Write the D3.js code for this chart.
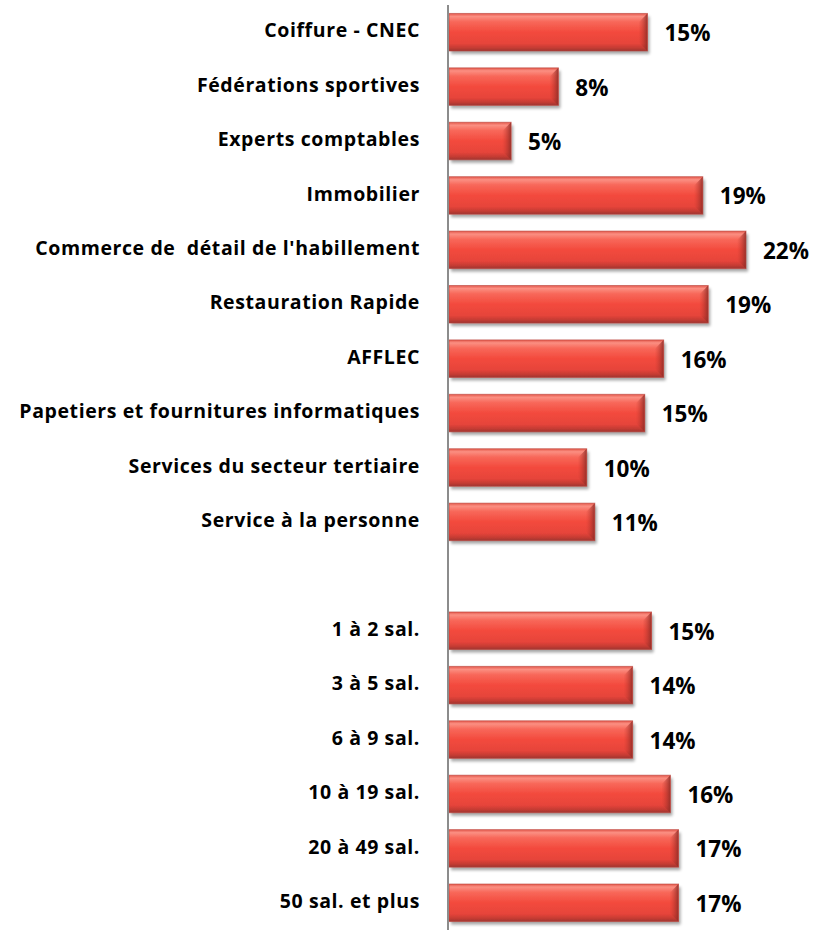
<!DOCTYPE html>
<html lang="fr">
  <head>
    <meta charset="UTF-8" />
    <title>Taux par secteur et taille</title>
    <script src="https://d3js.org/d3.v7.min.js"></script>
    <style>
      body { margin: 0; background: #fff; }
      text { font-family: "Open Sans", Lato, sans-serif; font-weight: bold; fill: #000; white-space: pre; }
    </style>
  </head>
  <body>
    <div id="chart"></div>
    <script>
      // secteurs
      var sectors = [
        "Coiffure - CNEC",
        "Fédérations sportives",
        "Experts comptables",
        "Immobilier",
        "Commerce de  détail de l'habillement",
        "Restauration Rapide",
        "AFFLEC",
        "Papetiers et fournitures informatiques",
        "Services du secteur tertiaire",
        "Service à la personne",
      ];
      var sectorValues = [14.7, 8.1, 4.6, 18.8, 22.0, 19.2, 15.9, 14.5, 10.2, 10.8];
      var sectorLabels = ["15%", "8%", "5%", "19%", "22%", "19%", "16%", "15%", "10%", "11%"];

      // tailles d'entreprise
      var sizes = ["1 à 2 sal.", "3 à 5 sal.", "6 à 9 sal.", "10 à 19 sal.", "20 à 49 sal.", "50 sal. et plus"];
      var sizeValues = [15.0, 13.6, 13.6, 16.4, 17.0, 17.0];
      var sizeLabels = ["15%", "14%", "14%", "16%", "17%", "17%"];

      var width = 827;
      var height = 930;
      var x0 = 449;

      var rows = [];
      sectors.forEach(function (c, i) {
        rows.push({ key: "s" + i, name: c, value: sectorValues[i], label: sectorLabels[i] });
      });
      var spacer = "gap";
      sizes.forEach(function (c, i) {
        rows.push({ key: "t" + i, name: c, value: sizeValues[i], label: sizeLabels[i] });
      });
      var keys = rows.slice(0, sectors.length).map((d) => d.key)
        .concat([spacer])
        .concat(rows.slice(sectors.length).map((d) => d.key));

      var svg = d3
        .select("#chart")
        .append("svg")
        .attr("width", width)
        .attr("height", height);

      var defs = svg.append("defs");
      var grad = defs
        .append("linearGradient")
        .attr("id", "barGrad")
        .attr("x1", 0).attr("y1", 0).attr("x2", 0).attr("y2", 1);
      [
        [0, "#e4574b"],
        [0.08, "#fb8f82"],
        [0.22, "#f8685a"],
        [0.5, "#f34a3d"],
        [0.8, "#e6443a"],
        [0.92, "#c33b33"],
        [1, "#9e3530"],
      ].forEach(function (s) {
        grad.append("stop").attr("offset", s[0]).attr("stop-color", s[1]);
      });
      var endGrad = defs
        .append("linearGradient")
        .attr("id", "endGrad")
        .attr("x1", 0).attr("y1", 0).attr("x2", 1).attr("y2", 0);
      endGrad.append("stop").attr("offset", 0).attr("stop-color", "#c8392f").attr("stop-opacity", 0);
      endGrad.append("stop").attr("offset", 1).attr("stop-color", "#8f2d27").attr("stop-opacity", 0.9);

      var shadow = defs.append("filter").attr("id", "shadow")
        .attr("x", "-5%").attr("y", "-20%").attr("width", "115%").attr("height", "160%");
      shadow.append("feGaussianBlur").attr("in", "SourceAlpha").attr("stdDeviation", 1.6);
      shadow.append("feOffset").attr("dx", 2).attr("dy", 3).attr("result", "off");
      shadow.append("feComponentTransfer").append("feFuncA").attr("type", "linear").attr("slope", 0.35);
      var merge = shadow.append("feMerge");
      merge.append("feMergeNode");
      merge.append("feMergeNode").attr("in", "SourceGraphic");

      var x = d3.scaleLinear().domain([0, 25]).range([x0, x0 + 25 * 13.5]);
      var y = d3
        .scaleBand()
        .domain(keys)
        .range([5, 930])
        .paddingInner(0.31)
        .paddingOuter(0.155);

      var bar = svg
        .selectAll("g.bar")
        .data(rows)
        .join("g")
        .attr("class", "bar")
        .attr("transform", (d) => "translate(0," + y(d.key) + ")");

      var bw = y.bandwidth();
      var bevel = 9;

      bar
        .append("rect")
        .attr("x", x(0))
        .attr("y", 0)
        .attr("width", (d) => x(d.value) - x(0))
        .attr("height", bw)
        .attr("fill", "url(#barGrad)")
        .attr("filter", "url(#shadow)");

      // bevelled right end
      bar
        .append("path")
        .attr("d", function (d) {
          var xe = x(d.value);
          return "M" + (xe - bevel) + "," + bevel + "L" + xe + ",0L" + xe + "," + bw + "L" + (xe - bevel) + "," + (bw - bevel) + "Z";
        })
        .attr("fill", "url(#endGrad)");

      bar
        .append("rect")
        .attr("x", x(0))
        .attr("y", 0)
        .attr("width", (d) => x(d.value) - x(0))
        .attr("height", bw)
        .attr("fill", "none")
        .attr("stroke", "#b9453c")
        .attr("stroke-opacity", 0.6)
        .attr("stroke-width", 1);

      bar
        .append("text")
        .attr("x", (d) => x(d.value) + 17)
        .attr("y", bw / 2 + 3)
        .attr("dominant-baseline", "middle")
        .style("font-size", "22.5px")
        .text((d) => d.label);

      bar
        .append("text")
        .attr("x", 420)
        .attr("y", bw / 2)
        .attr("text-anchor", "end")
        .attr("dominant-baseline", "middle")
        .style("font-size", "19.5px")
        .style("letter-spacing", "0.6px")
        .text((d) => d.name);

      // axe vertical
      svg
        .append("g")
        .attr("transform", "translate(" + (x0 - 1) + ",0)")
        .call(d3.axisLeft(y).tickSize(0).tickFormat(""))
        .call((g) => g.select(".domain").attr("stroke", "#8c8c8c").attr("stroke-width", 2).attr("d", "M0,5V930"));
    </script>
  </body>
</html>
